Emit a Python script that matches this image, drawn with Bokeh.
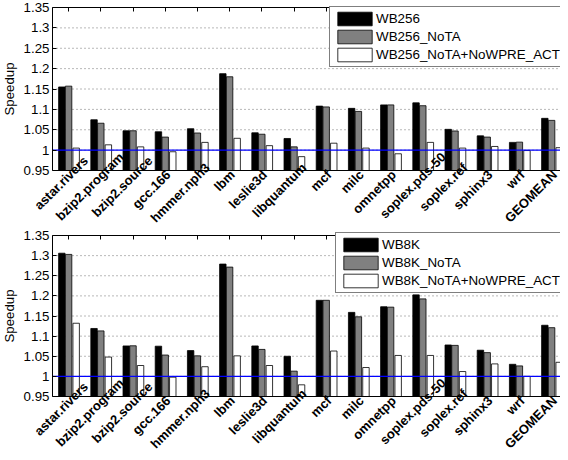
import math
from bokeh.plotting import figure
from bokeh.models import (ColumnDataSource, FixedTicker, LinearAxis, Range1d,
                          Label, Legend, LegendItem)
from bokeh.core.properties import value
from bokeh.transform import dodge
from bokeh.embed import file_html
from bokeh.resources import INLINE

# ---------------- data ----------------
benchmarks = ["astar.rivers", "bzip2.program", "bzip2.source", "gcc.166",
              "hmmer.nph3", "lbm", "leslie3d", "libquantum", "mcf", "milc",
              "omnetpp", "soplex.pds-50", "soplex.ref", "sphinx3", "wrf",
              "GEOMEAN"]
positions = list(range(1, len(benchmarks) + 1))

wb256 = [1.155, 1.0745, 1.0475, 1.045, 1.0525, 1.1876, 1.0425, 1.0286,
         1.108, 1.1025, 1.111, 1.116, 1.051, 1.035, 1.019, 1.078]
wb256_nota = [1.157, 1.066, 1.0475, 1.032, 1.042, 1.180, 1.039, 1.008,
              1.106, 1.095, 1.111, 1.109, 1.047, 1.032, 1.0196, 1.073]
wb256_nota_nowpre = [1.005, 1.013, 1.008, 0.996, 1.019, 1.029, 1.011, 0.984,
                     1.017, 1.005, 0.991, 1.019, 1.005, 1.009, 0.999, 1.006]

wb8k = [1.306, 1.119, 1.0756, 1.075, 1.064, 1.279, 1.0756, 1.05,
        1.189, 1.159, 1.173, 1.2025, 1.078, 1.065, 1.03, 1.127]
wb8k_nota = [1.303, 1.113, 1.076, 1.053, 1.051, 1.2715, 1.067, 1.013,
             1.189, 1.148, 1.172, 1.1925, 1.077, 1.059, 1.026, 1.121]
wb8k_nota_nowpre = [1.132, 1.048, 1.027, 0.998, 1.024, 1.051, 1.027, 0.979,
                    1.063, 1.022, 1.052, 1.052, 1.012, 1.031, 1.0, 1.035]

series_top = ["WB256", "WB256_NoTA", "WB256_NoTA+NoWPRE_ACT"]
series_bottom = ["WB8K", "WB8K_NoTA", "WB8K_NoTA+NoWPRE_ACT"]

y_ticks = [0.95, 1.0, 1.05, 1.1, 1.15, 1.2, 1.25, 1.3, 1.35]
y_tick_labels = ["0.95", "1", "1.05", "1.1", "1.15", "1.2", "1.25", "1.3", "1.35"]
baseline = 1.0
y_label = "Speedup"

# ---------------- layout / style ----------------
W, H = 560, 452
FONT = "Liberation Sans"
FS = "13.3px"
COLORS = ["#000000", "#808080", "#ffffff"]
OFFSETS = [-0.21, 0.0, 0.235]
BAR_W = 0.2

X_PX = 32.2          # pixels per category
X_FIRST_PX = 68.1    # canvas x of the first category
x_start = 1 - X_FIRST_PX / X_PX
x_end = x_start + W / X_PX
X_AXIS = 0.5         # left edge of each plot box (data units)


def y_window(top_px, bottom_px):
    lo, hi = y_ticks[0], y_ticks[-1]
    scale = (bottom_px - top_px) / (hi - lo)
    return (lo - (H - bottom_px) / scale, hi + top_px / scale)


p = figure(width=W, height=H, output_backend="svg", toolbar_location=None,
           x_range=Range1d(x_start, x_end),
           y_range=Range1d(*y_window(7, 170)),
           x_axis_location=None, y_axis_location=None, min_border=0)
p.extra_y_ranges = {"bottom": Range1d(*y_window(235, 396))}
p.grid.visible = False
p.outline_line_color = None
p.background_fill_color = "white"
p.border_fill_color = "white"


def style_x_axis(ax, show_ticks):
    ax.ticker = FixedTicker(ticks=positions, minor_ticks=[])
    ax.major_label_overrides = {pos: "" for pos in positions}
    ax.major_label_text_font_size = "0px"
    ax.major_label_standoff = 0
    ax.major_tick_in = 4
    ax.major_tick_out = 0
    ax.minor_tick_line_color = None
    ax.axis_line_color = "black"
    ax.major_tick_line_color = "black" if show_ticks else None


def draw_panel(rname, vals, names, leg_left, leg_top):
    shift = [5 * max(0, len(s) - 8) for s in benchmarks]
    src = ColumnDataSource(dict(
        x=positions, a=vals[0], b=vals[1], c=vals[2], label=benchmarks,
        ybase=[y_ticks[0]] * len(positions),
        xo=[3 + s * 0.7071 for s in shift],
        yo=[2 - s * 0.7071 for s in shift]))

    inner = y_ticks[1:-1]
    p.segment(x0=[X_AXIS] * len(inner), x1=[x_end] * len(inner),
              y0=inner, y1=inner, y_range_name=rname,
              line_color="#707070", line_dash="1 3", line_width=1)

    renderers = []
    for col, off, color in zip(["a", "b", "c"], OFFSETS, COLORS):
        r = p.vbar(x=dodge("x", off, range=p.x_range), top=col,
                   bottom=y_ticks[0], width=BAR_W, source=src,
                   y_range_name=rname, fill_color=color,
                   line_color="black", line_width=0.8)
        renderers.append(r)

    p.segment(x0=[X_AXIS], x1=[x_end], y0=[baseline], y1=[baseline],
              y_range_name=rname, line_color="#0000ff", line_width=1.4)

    left = LinearAxis(y_range_name=rname, fixed_location=X_AXIS,
                      bounds=(y_ticks[0], y_ticks[-1]))
    left.ticker = FixedTicker(ticks=y_ticks, minor_ticks=[])
    left.major_label_overrides = dict(zip(y_ticks, y_tick_labels))
    left.major_tick_in = 4
    left.major_tick_out = 0
    left.minor_tick_line_color = None
    left.axis_line_color = "black"
    left.major_tick_line_color = "black"
    left.major_label_text_font = FONT
    left.major_label_text_font_size = FS
    left.major_label_text_color = "black"
    left.major_label_standoff = 3
    p.add_layout(left, "left")

    top = LinearAxis(y_range_name=rname, fixed_location=y_ticks[-1],
                     bounds=(X_AXIS, x_end))
    style_x_axis(top, True)
    p.add_layout(top, "above")

    bottom = LinearAxis(y_range_name=rname, fixed_location=y_ticks[0],
                        bounds=(X_AXIS, x_end))
    style_x_axis(bottom, False)
    p.add_layout(bottom, "below")

    # rotated category labels (text glyph)
    p.text(x="x", y="ybase", text="label", source=src, y_range_name=rname,
           angle=45, angle_units="deg", text_align="right",
           text_baseline="middle", x_offset="xo", y_offset="yo",
           text_font=value(FONT), text_font_size="13px",
           text_font_style="bold", text_color="black")

    p.add_layout(Label(x=9, x_units="screen",
                       y=(y_ticks[0] + y_ticks[-1]) / 2, y_range_name=rname,
                       text=y_label, angle=math.pi / 2, text_align="center",
                       text_baseline="middle", text_font=FONT,
                       text_font_size=FS, text_color="black"))

    pad, spacing, item_h = 3, 1, 17
    leg_h = 2 * pad + len(names) * item_h + (len(names) - 1) * spacing
    legend = Legend(items=[LegendItem(label=n, renderers=[r])
                           for n, r in zip(names, renderers)],
                    location=(leg_left, H - leg_top - leg_h),
                    orientation="vertical")
    legend.border_line_color = "black"
    legend.border_line_width = 1
    legend.background_fill_color = "white"
    legend.background_fill_alpha = 1.0
    legend.padding = pad
    legend.spacing = spacing
    legend.margin = 0
    legend.glyph_width = 43
    legend.glyph_height = item_h
    legend.label_height = item_h
    legend.label_standoff = 0
    legend.label_text_font = FONT
    legend.label_text_font_size = "13.4px"
    legend.label_text_color = "black"
    p.add_layout(legend)


draw_panel("default", [wb256, wb256_nota, wb256_nota_nowpre], series_top, 329, 8)
draw_panel("bottom", [wb8k, wb8k_nota, wb8k_nota_nowpre], series_bottom, 335, 234)

open("out.html", "w").write(file_html(p, INLINE))
